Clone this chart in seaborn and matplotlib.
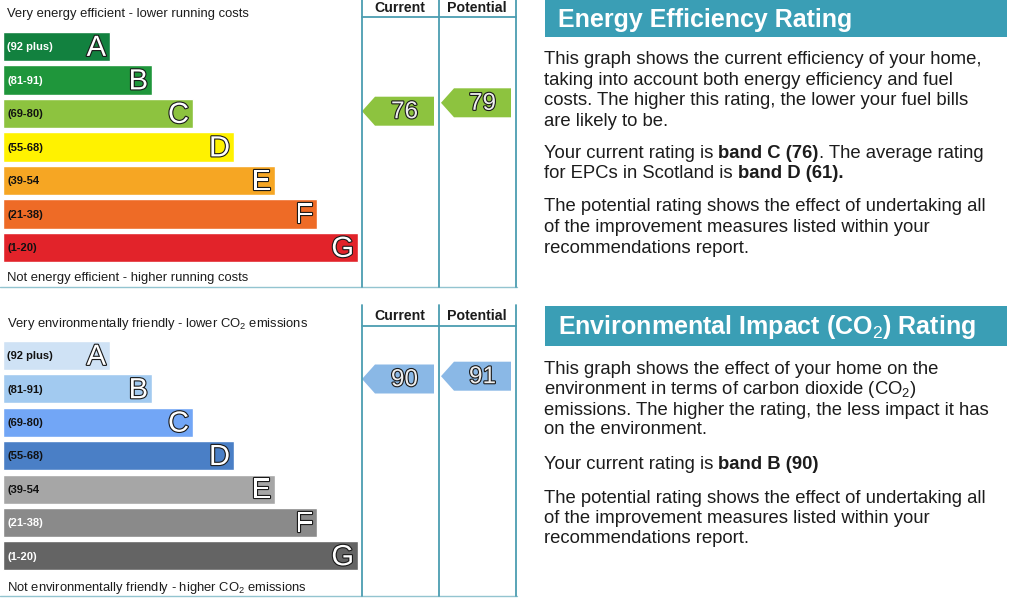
import matplotlib
matplotlib.use("Agg")
import matplotlib.pyplot as plt
import matplotlib.patheffects as pe
from matplotlib.patches import Polygon, Rectangle
import pandas as pd
import seaborn as sns

# ---- data ----
bands = ["A", "B", "C", "D", "E", "F", "G"]
band_ranges = ["(92 plus)", "(81-91)", "(69-80)", "(55-68)", "(39-54", "(21-38)", "(1-20)"]
band_lengths = [107, 149, 190, 231, 272, 314, 355]

energy_colours = ["#12813f", "#1f963b", "#8dc33f", "#fff200", "#f6a623", "#ee6b26", "#e2232a"]
energy_range_ink = ["white", "white", "#111111", "#111111", "#111111", "#111111", "#111111"]
env_colours = ["#cfe2f5", "#a2caf0", "#72a6f6", "#4a7fc6", "#a6a6a6", "#8a8a8a", "#646464"]
env_range_ink = ["#111111", "#111111", "#111111", "#111111", "#111111", "white", "white"]

energy_current, energy_potential = 76, 79
energy_arrow_colour = "#8dc33f"
env_current, env_potential = 90, 91
env_arrow_colour = "#8ab8e6"

energy_title = "Energy Efficiency Rating"
energy_text = [
    [("This graph shows the current efficiency of your home,", "normal")],
    [("taking into account both energy efficiency and fuel", "normal")],
    [("costs. The higher this rating, the lower your fuel bills", "normal")],
    [("are likely to be.", "normal")],
    [("Your current rating is ", "normal"), ("band C (76)", "bold"), (". The average rating", "normal")],
    [("for EPCs in Scotland is ", "normal"), ("band D (61).", "bold")],
    [("The potential rating shows the effect of undertaking all", "normal")],
    [("of the improvement measures listed within your", "normal")],
    [("recommendations report.", "normal")],
]
env_title = "Environmental Impact (CO$_2$) Rating"
env_text = [
    [("This graph shows the effect of your home on the", "normal")],
    [("environment in terms of carbon dioxide (CO$_2$)", "normal")],
    [("emissions. The higher the rating, the less impact it has", "normal")],
    [("on the environment.", "normal")],
    [("Your current rating is ", "normal"), ("band B (90)", "bold")],
    [("The potential rating shows the effect of undertaking all", "normal")],
    [("of the improvement measures listed within your", "normal")],
    [("recommendations report.", "normal")],
]

# ---- style ----
sns.set_theme(style="white")
plt.rcParams["font.family"] = ["Liberation Sans", "DejaVu Sans"]
plt.rcParams["mathtext.fontset"] = "custom"
plt.rcParams["mathtext.rm"] = "Liberation Sans"
plt.rcParams["mathtext.bf"] = "Liberation Sans:bold"

W, H = 1024, 602
LINE = "#4b9db1"
TEAL = "#3a9eb5"
INK = "#1c1c1c"

fig = plt.figure(figsize=(W / 100, H / 100), dpi=100)
fig.patch.set_facecolor("white")
bg = fig.add_axes([0, 0, 1, 1])
bg.set_xlim(0, W)
bg.set_ylim(H, 0)
bg.axis("off")
renderer = fig.canvas.get_renderer()


def px_axes(x0, y0, x1, y1):
    return fig.add_axes([x0 / W, 1 - y1 / H, (x1 - x0) / W, (y1 - y0) / H])


outline = [pe.withStroke(linewidth=1.6, foreground="#1a1a1a")]


def draw_bands(top, pitch, colours, inks):
    ax = px_axes(3, top, 361, top + 7 * pitch)
    df = pd.DataFrame({"band": bands, "length": band_lengths})
    sns.barplot(data=df, x="length", y="band", hue="band", order=bands,
                palette=dict(zip(bands, colours)), orient="h", width=0.87,
                saturation=1, legend=False, ax=ax)
    ax.set_xlim(0, 358)
    ax.set_ylim(6.5, -0.5)
    ax.axis("off")
    for i, (rng, length, ink) in enumerate(zip(band_ranges, band_lengths, inks)):
        ax.text(4, i + 0.02, rng, color=ink, fontsize=8.0, fontweight="bold",
                va="center", ha="left")
        ax.text(length - 4, i + 0.04, bands[i], color="white", fontsize=21,
                va="center", ha="right", path_effects=outline)


def draw_arrow(x0, x1, rating, base, colour):
    yc = base - 2.8 * rating
    h = 29
    pts = [(x0, yc), (x0 + 13, yc - h / 2), (x1, yc - h / 2), (x1, yc + h / 2), (x0 + 13, yc + h / 2)]
    bg.add_patch(Polygon(pts, closed=True, facecolor=colour, edgecolor="none"))
    bg.text((x0 + 13 + x1) / 2, yc + 1, str(rating), color="#eeeeee", fontsize=17.5,
            ha="center", va="center", path_effects=outline)


def draw_frame(top, header_y, bottom, top_label, bottom_label, label_y, bottom_label_y):
    for x in (362, 439, 516):
        bg.plot([x, x], [top, bottom], color=LINE, lw=1.3)
    bg.plot([362, 516], [header_y, header_y], color=LINE, lw=1.3)
    bg.plot([0, 517], [bottom, bottom], color=LINE, lw=1.0, alpha=0.6)
    bg.text(400, (top + header_y) / 2, "Current", fontsize=10.2, fontweight="bold",
            ha="center", va="center", color=INK)
    bg.text(477, (top + header_y) / 2, "Potential", fontsize=10.2, fontweight="bold",
            ha="center", va="center", color=INK)
    bg.text(7, label_y + 4.5, top_label, fontsize=9.4, ha="left", va="baseline", color=INK)
    bg.text(7, bottom_label_y + 4.5, bottom_label, fontsize=9.4, ha="left", va="baseline", color=INK)


def rich_line(x, y, parts, size=13.3):
    for txt, weight in parts:
        t = bg.text(x, y + 6, txt, fontsize=size, fontweight=weight, ha="left",
                    va="baseline", color=INK)
        bb = t.get_window_extent(renderer=renderer)
        x += bb.width


def draw_panel(box_top, box_bottom, title, lines, ys):
    bg.add_patch(Rectangle((545, box_top), 462, box_bottom - box_top,
                           facecolor=TEAL, edgecolor="none"))
    bg.text(558, (box_top + box_bottom) / 2 + 8, title, color="white", fontsize=18,
            fontweight="bold", ha="left", va="baseline")
    for parts, y in zip(lines, ys):
        rich_line(544, y, parts)


# energy efficiency chart
draw_frame(0, 17, 287, "Very energy efficient - lower running costs",
           "Not energy efficient - higher running costs", 13, 277)
draw_bands(29.8, 33.5, energy_colours, energy_range_ink)
draw_arrow(362, 434, energy_current, 324, energy_arrow_colour)
draw_arrow(441, 511, energy_potential, 324, energy_arrow_colour)

# environmental impact chart
draw_frame(305, 326, 596, "Very environmentally friendly - lower CO$_2$ emissions",
           "Not environmentally friendly - higher CO$_2$ emissions", 322, 586)
draw_bands(338.8, 33.4, env_colours, env_range_ink)
draw_arrow(362, 434, env_current, 631, env_arrow_colour)
draw_arrow(441, 511, env_potential, 631, env_arrow_colour)

draw_panel(0, 37, energy_title, energy_text, [58, 79, 99, 120, 152, 172, 205, 226, 247])
draw_panel(306, 346, env_title, env_text, [368, 388, 409, 428, 463, 497, 517, 537])

fig.savefig("out.png", dpi=100, facecolor="white")
